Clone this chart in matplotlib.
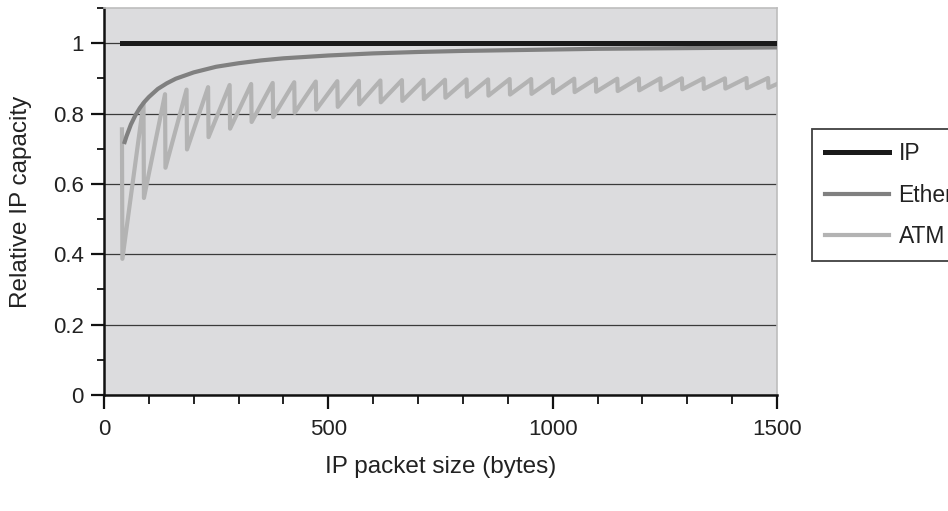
import matplotlib
matplotlib.use("Agg")
import matplotlib.pyplot as plt
from matplotlib.ticker import MultipleLocator

plt.rcParams['font.family'] = ['Liberation Sans', 'DejaVu Sans']

# IP: flat at 1 over the whole packet range
ip_x = [40, 1500]
ip_y = [1.0, 1.0]

# Ethernet curve
eth_x = [46, 50, 60, 70, 80, 90, 100, 120, 140, 160, 200, 250, 300, 350, 400,
         500, 600, 700, 800, 900, 1000, 1100, 1200, 1300, 1400, 1500]
eth_y = [0.719, 0.735, 0.769, 0.795, 0.816, 0.833, 0.847, 0.870, 0.886, 0.899,
         0.917, 0.933, 0.943, 0.951, 0.957, 0.965, 0.971, 0.975, 0.978, 0.980,
         0.982, 0.984, 0.985, 0.986, 0.987, 0.988]

# ATM sawtooth: packet size at each tooth, value just before and just after the drop
atm_tooth = [40, 88, 136, 184, 232, 280, 328, 376, 424, 472, 520, 568, 616, 664,
             712, 760, 808, 856, 904, 952, 1000, 1048, 1096, 1144, 1192, 1240,
             1288, 1336, 1384, 1432, 1480]
atm_peak = [0.755, 0.830, 0.855, 0.868, 0.875, 0.881, 0.884, 0.887, 0.889, 0.891,
            0.892, 0.893, 0.894, 0.895, 0.896, 0.896, 0.897, 0.897, 0.898, 0.898,
            0.898, 0.899, 0.899, 0.899, 0.900, 0.900, 0.900, 0.900, 0.900, 0.901,
            0.901]
atm_trough = [0.387, 0.560, 0.646, 0.698, 0.733, 0.757, 0.776, 0.790, 0.802, 0.811,
              0.819, 0.826, 0.832, 0.836, 0.841, 0.845, 0.848, 0.851, 0.854, 0.856,
              0.858, 0.861, 0.862, 0.864, 0.866, 0.867, 0.869, 0.870, 0.871, 0.872,
              0.873]
atm_end = (1500, 0.884)

atm_x, atm_y = [], []
for t, p, q in zip(atm_tooth, atm_peak, atm_trough):
    atm_x += [t, t + 1]
    atm_y += [p, q]
atm_x.append(atm_end[0])
atm_y.append(atm_end[1])

fig = plt.figure(figsize=(9.48, 5.11), dpi=100)
ax = fig.add_axes([104/948, 1 - 395/511, (777 - 104)/948, (395 - 8)/511])
ax.set_facecolor('#dcdcde')

ax.plot(atm_x, atm_y, color='#b3b3b3', lw=3.0, label='ATM', zorder=3)
ax.plot(eth_x, eth_y, color='#808080', lw=3.0, label='Ethernet', zorder=4)
ax.plot(ip_x, ip_y, color='#1a1a1a', lw=3.6, label='IP', zorder=5)

ax.set_xlim(0, 1500)
ax.set_ylim(0, 1.1)
ax.xaxis.set_major_locator(MultipleLocator(500))
ax.xaxis.set_minor_locator(MultipleLocator(100))
ax.set_yticks([0, 0.2, 0.4, 0.6, 0.8, 1.0])
ax.set_yticklabels(['0', '0.2', '0.4', '0.6', '0.8', '1'])
ax.yaxis.set_minor_locator(MultipleLocator(0.1))

ax.grid(axis='y', which='major', color='#3a3a3a', lw=0.9, zorder=1)
ax.set_axisbelow(True)

for s in ['left', 'bottom']:
    ax.spines[s].set_linewidth(1.8)
    ax.spines[s].set_color('#111111')
for s in ['top', 'right']:
    ax.spines[s].set_linewidth(1.2)
    ax.spines[s].set_color('#bdbdbd')

ax.tick_params(axis='both', which='major', direction='out', width=1.6,
               colors='#111111', labelsize=16, labelcolor='#222222')
ax.tick_params(axis='x', which='major', length=10, pad=7)
ax.tick_params(axis='x', which='minor', direction='out', length=6.5, width=1.3,
               colors='#111111')
ax.tick_params(axis='y', which='major', length=9.5, pad=5)
ax.tick_params(axis='y', which='minor', direction='out', length=5, width=1.3,
               colors='#111111')

ax.set_xlabel('IP packet size (bytes)', fontsize=17.5, color='#222222', labelpad=12)
ax.set_ylabel('Relative IP capacity', fontsize=17.5, color='#222222', labelpad=15)

h, l = ax.get_legend_handles_labels()
order = [2, 1, 0]
leg = fig.legend([h[i] for i in order], [l[i] for i in order],
                 loc='upper left', bbox_to_anchor=(812/948, 1 - 129/511),
                 fontsize=16.5, frameon=True, fancybox=False, borderaxespad=0,
                 borderpad=0.58, handlelength=2.8, handletextpad=0.4,
                 labelspacing=0.8)
leg.get_frame().set_edgecolor('#111111')
leg.get_frame().set_linewidth(1.3)
for t in leg.get_texts():
    t.set_color('#222222')

fig.savefig('out.png', dpi=100)
